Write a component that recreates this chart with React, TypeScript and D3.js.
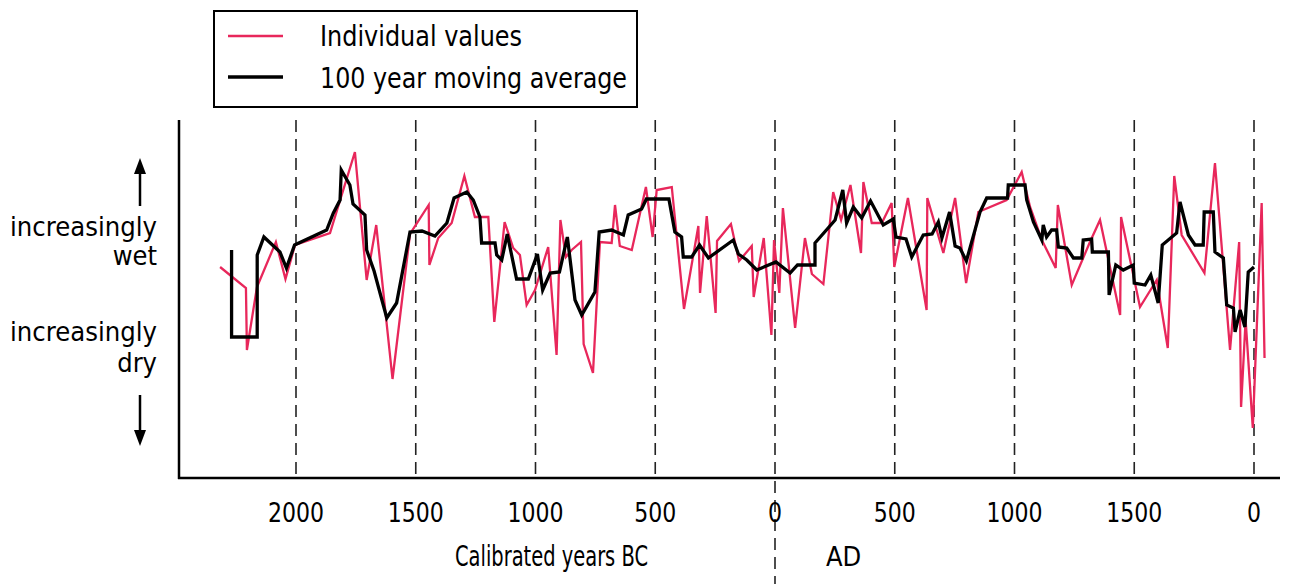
import React from 'react';
import * as d3 from 'd3';

// calibrated years (BC negative) and wetness index
const rawYears = [
  -2317, -2209, -2205, -2163, -2084, -2044, -2004, -1858, -1754, -1705, -1665, -1597, -1524, -1446, -1443,
  -1406, -1350, -1297, -1253, -1197, -1172, -1129, -1093, -1065, -1037, -1002, -947, -912, -896, -873,
  -849, -810, -799, -760, -731, -682, -668, -648, -598, -539, -511, -494, -431, -380, -320,
  -313, -285, -248, -242, -184, -150, -97, -89, -47, -15, -4, 18, 33, 84, 125,
  154, 202, 243, 276, 315, 359, 369, 404, 446, 487, 498, 555, 633, 636, 703,
  752, 798, 849, 967, 1030, 1065, 1114, 1172, 1181, 1239, 1315, 1357, 1441, 1445, 1524,
  1594, 1640, 1667, 1698, 1793, 1837, 1900, 1938, 1946, 1965, 1995, 2032, 2044,
];
const rawValues = [
  3.3, 1.2, -5.0, 1.3, 5.8, 2.1, 5.5, 6.7, 14.8, 2.0, 7.5, -7.9, 6.6, 9.5, 3.5,
  6.2, 7.7, 12.4, 8.3, 8.3, -2.2, 7.8, 5.2, 4.5, -0.5, 1.0, 5.3, -5.5, 8.0, 4.3,
  5.0, 5.8, -4.4, -7.3, 5.8, 5.7, 9.5, 5.4, 5.0, 11.3, 6.3, 11.0, 11.3, -0.9, 7.4,
  0.7, 8.4, -1.3, 5.9, 7.6, 3.9, 5.4, 0.3, 6.2, -3.5, 6.0, 0.7, 9.2, -2.8, 6.2,
  2.6, 1.6, 10.8, 8.0, 11.5, 4.7, 11.8, 7.7, 7.7, 9.7, 3.3, 10.2, -1.0, 10.2, 4.7,
  10.2, 1.7, 8.8, 10.0, 12.8, 9.3, 6.0, 3.2, 9.5, 1.5, 5.8, 8.0, -1.5, 8.3, -0.7,
  2.0, -4.8, 12.4, 6.5, 2.7, 13.7, -5.0, 5.8, -10.7, -2.0, -12.8, 9.7, -5.8,
];

const avgYears = [
  -2269, -2269, -2162, -2162, -2134, -2067, -2040, -2006, -1872, -1844, -1816, -1811, -1775, -1762, -1712,
  -1705, -1674, -1621, -1580, -1524, -1474, -1420, -1370, -1340, -1287, -1260, -1232, -1225, -1169, -1162,
  -1141, -1118, -1079, -1030, -992, -970, -939, -900, -867, -835, -807, -752, -734, -682, -633,
  -613, -557, -537, -443, -418, -390, -383, -348, -315, -278, -174, -153, -118, -76, 4,
  63, 94, 167, 167, 251, 283, 299, 327, 362, 399, 452, 494, 505, 547, 571,
  619, 656, 682, 697, 729, 752, 772, 799, 856, 884, 971, 974, 1044, 1051, 1079,
  1114, 1120, 1134, 1155, 1176, 1183, 1218, 1246, 1281, 1287, 1322, 1325, 1392, 1395, 1423,
  1454, 1496, 1500, 1545, 1569, 1600, 1617, 1677, 1691, 1726, 1754, 1788, 1792, 1830, 1837,
  1872, 1886, 1914, 1921, 1942, 1962, 1976, 2000,
];
const avgValues = [
  5.0, -3.7, -3.7, 4.5, 6.3, 4.8, 3.2, 5.5, 7.0, 8.7, 10.0, 13.0, 11.5, 9.6, 8.5,
  5.0, 2.9, -1.8, -0.3, 6.8, 6.9, 6.4, 7.7, 10.2, 10.8, 10.0, 8.3, 5.7, 5.7, 4.5,
  4.0, 6.6, 2.1, 2.1, 4.6, 1.0, 2.7, 2.8, 6.3, 0.0, -1.5, 0.8, 6.8, 7.0, 6.5,
  8.5, 9.1, 10.1, 10.1, 6.8, 6.3, 4.3, 4.3, 5.5, 4.2, 6.0, 4.6, 4.0, 3.0, 3.8,
  2.7, 3.5, 3.5, 5.7, 8.0, 11.0, 7.7, 9.3, 8.2, 9.9, 7.5, 8.1, 6.3, 6.1, 4.3,
  6.5, 6.6, 7.8, 6.2, 8.8, 5.4, 5.2, 3.9, 8.8, 10.2, 10.2, 11.5, 11.5, 10.0, 7.8,
  6.0, 7.5, 6.3, 7.0, 7.0, 5.3, 5.2, 4.2, 4.2, 6.0, 6.1, 4.8, 4.8, 0.5, 3.5,
  3.0, 3.5, 1.7, 1.5, 2.5, -0.3, 5.5, 6.7, 9.8, 6.5, 5.5, 5.5, 8.8, 8.8, 4.8,
  4.2, -0.5, -0.8, -3.2, -1.0, -2.7, 2.8, 3.3,
];

const gridYears = [-2000, -1500, -1000, -500, 0, 500, 1000, 1500, 2000];
const tickLabels = ['2000', '1500', '1000', '500', '0', '500', '1000', '1500', '0'];

const RED = '#e8275b';
const FONT = "'Liberation Sans Narrow', 'DejaVu Sans Condensed', 'DejaVu Sans', sans-serif";

const App = () => {
  const width = 1294;
  const height = 584;

  const x = d3.scaleLinear().domain([-2000, 2000]).range([296, 1254]);
  const y = d3.scaleLinear().domain([-17.8, 18]).range([478, 120]);

  const line = d3
    .line<[number, number]>()
    .x(d => x(d[0]))
    .y(d => y(d[1]));

  const raw = rawYears.map((yr, i) => [yr, rawValues[i]] as [number, number]);
  const avg = avgYears.map((yr, i) => [yr, avgValues[i]] as [number, number]);

  const axisLeft = 179;
  const axisBottom = 478;

  return (
    <svg
      width={width}
      height={height}
      style={{ position: 'absolute', left: 0, top: 0, background: '#fff' }}
      fontFamily={FONT}
    >
      {/* dashed period lines */}
      {gridYears.map(g => (
        <line
          key={g}
          x1={x(g)}
          x2={x(g)}
          y1={120}
          y2={g === 0 ? height : axisBottom}
          stroke="#222"
          strokeWidth={1.6}
          strokeDasharray="12,7"
        />
      ))}

      {/* axes */}
      <line x1={axisLeft} x2={axisLeft} y1={120} y2={axisBottom + 1} stroke="#000" strokeWidth={2.5} />
      <line x1={axisLeft - 1} x2={1280} y1={axisBottom} y2={axisBottom} stroke="#000" strokeWidth={2.5} />

      {/* series */}
      <path d={line(raw) || ''} fill="none" stroke={RED} strokeWidth={2.3} strokeLinejoin="miter" />
      <path d={line(avg) || ''} fill="none" stroke="#000" strokeWidth={3.3} strokeLinejoin="miter" />

      {/* x labels */}
      {gridYears.map((g, i) => (
        <text
          key={g}
          x={x(g)}
          y={522}
          textAnchor="middle"
          fontSize={27}
          textLength={14 * tickLabels[i].length}
          lengthAdjust="spacingAndGlyphs"
        >
          {tickLabels[i]}
        </text>
      ))}
      <text x={455} y={566} fontSize={29} textLength={193} lengthAdjust="spacingAndGlyphs">
        Calibrated years BC
      </text>
      <text x={826} y={566} fontSize={27}>AD</text>

      {/* y labels */}
      <text x={157} y={236} textAnchor="end" fontSize={27} textLength={147} lengthAdjust="spacingAndGlyphs">
        increasingly
      </text>
      <text x={157} y={265} textAnchor="end" fontSize={27}>wet</text>
      <text x={157} y={341} textAnchor="end" fontSize={27} textLength={147} lengthAdjust="spacingAndGlyphs">
        increasingly
      </text>
      <text x={157} y={372} textAnchor="end" fontSize={27}>dry</text>

      {/* arrows */}
      <line x1={140} x2={140} y1={170} y2={206} stroke="#000" strokeWidth={2.5} />
      <path d="M140,158 L134,174 L146,174 Z" fill="#000" />
      <line x1={140} x2={140} y1={395} y2={432} stroke="#000" strokeWidth={2.5} />
      <path d="M140,446 L134,430 L146,430 Z" fill="#000" />

      {/* legend */}
      <rect x={214} y={11} width={423} height={96} fill="#fff" stroke="#000" strokeWidth={2} />
      <line x1={228} x2={283} y1={36} y2={36} stroke={RED} strokeWidth={2.3} />
      <line x1={228} x2={283} y1={77} y2={77} stroke="#000" strokeWidth={3.3} />
      <text x={320} y={46} fontSize={28} textLength={202} lengthAdjust="spacingAndGlyphs">
        Individual values
      </text>
      <text x={320} y={88} fontSize={28} textLength={307} lengthAdjust="spacingAndGlyphs">
        100 year moving average
      </text>
    </svg>
  );
};

export default App;
